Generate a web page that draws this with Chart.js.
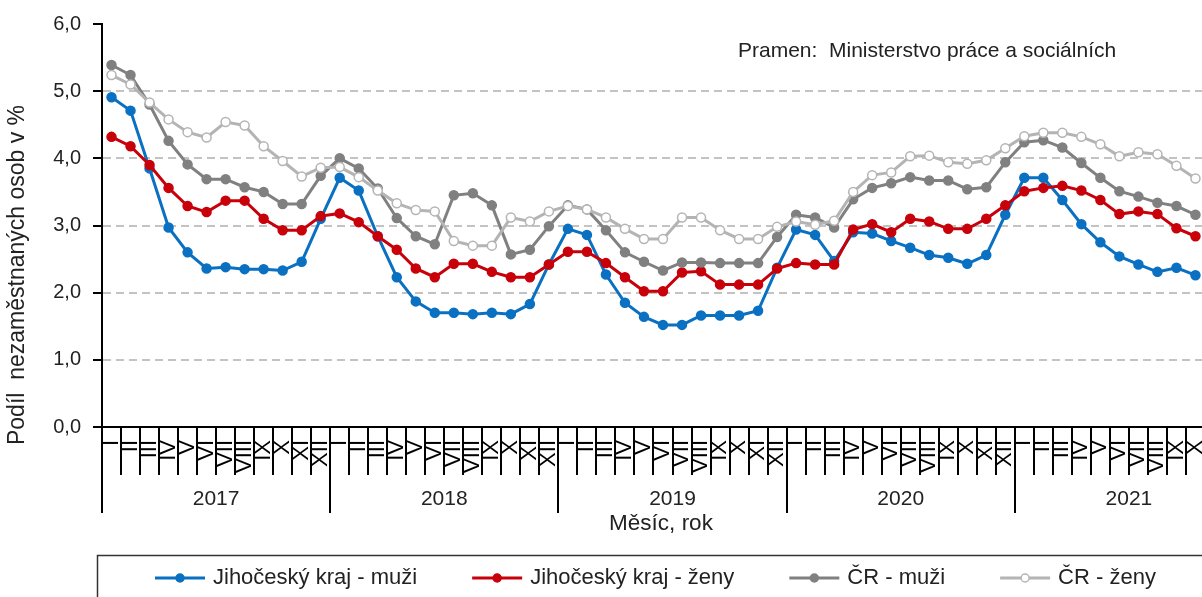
<!DOCTYPE html>
<html>
<head>
<meta charset="utf-8">
<script src="https://cdn.jsdelivr.net/npm/chart.js@4.4.1/dist/chart.umd.min.js"></script>
<style>
  html, body { margin: 0; padding: 0; background: #fff; overflow: hidden; width: 1202px; height: 597px; }
  #wrap { width: 1262px; height: 597px; }
</style>
</head>
<body>
<div id="wrap"><canvas id="chart" width="1262" height="597"></canvas></div>
<script>
"use strict";

// ---------------- DATA ----------------
const years = ["2017", "2018", "2019", "2020", "2021"];
const months = ["I", "II", "III", "IV", "V", "VI", "VII", "VIII", "IX", "X", "XI", "XII"];

// Jan 2017 .. Oct 2021
const jihoMuzi = [
  4.91, 4.71, 3.85, 2.97, 2.60, 2.36, 2.38, 2.35, 2.35, 2.33, 2.46, 3.10,
  3.71, 3.52, 2.84, 2.23, 1.87, 1.70, 1.70, 1.68, 1.70, 1.68, 1.83, 2.42,
  2.95, 2.86, 2.27, 1.85, 1.64, 1.52, 1.52, 1.66, 1.66, 1.66, 1.73, 2.37,
  2.94, 2.86, 2.47, 2.90, 2.88, 2.77, 2.67, 2.56, 2.52, 2.43, 2.56, 3.16,
  3.71, 3.71, 3.38, 3.02, 2.75, 2.54, 2.42, 2.31, 2.37, 2.26,
];
const jihoZeny = [
  4.32, 4.18, 3.90, 3.56, 3.29, 3.20, 3.37, 3.37, 3.10, 2.93, 2.93, 3.14,
  3.18, 3.05, 2.84, 2.64, 2.36, 2.23, 2.43, 2.43, 2.31, 2.23, 2.23, 2.42,
  2.61, 2.61, 2.44, 2.23, 2.02, 2.02, 2.30, 2.32, 2.12, 2.12, 2.12, 2.36,
  2.44, 2.42, 2.42, 2.94, 3.02, 2.90, 3.10, 3.06, 2.95, 2.95, 3.10, 3.30,
  3.51, 3.56, 3.59, 3.52, 3.38, 3.17, 3.21, 3.17, 2.96, 2.84,
];
const crMuzi = [
  5.39, 5.24, 4.80, 4.26, 3.91, 3.69, 3.69, 3.57, 3.50, 3.32, 3.32, 3.74,
  4.00, 3.85, 3.55, 3.11, 2.84, 2.72, 3.45, 3.48, 3.30, 2.57, 2.64, 2.99,
  3.30, 3.24, 2.93, 2.60, 2.46, 2.33, 2.45, 2.45, 2.44, 2.44, 2.44, 2.83,
  3.16, 3.12, 2.97, 3.39, 3.56, 3.63, 3.72, 3.67, 3.67, 3.54, 3.57, 3.94,
  4.24, 4.27, 4.16, 3.93, 3.71, 3.51, 3.43, 3.34, 3.29, 3.16,
];
const crZeny = [
  5.24, 5.10, 4.83, 4.58, 4.39, 4.31, 4.54, 4.49, 4.18, 3.96, 3.73, 3.86,
  3.87, 3.72, 3.52, 3.33, 3.23, 3.21, 2.77, 2.70, 2.70, 3.12, 3.06, 3.21,
  3.29, 3.24, 3.12, 2.95, 2.80, 2.80, 3.12, 3.12, 2.93, 2.80, 2.80, 2.98,
  3.06, 3.01, 3.07, 3.50, 3.75, 3.79, 4.03, 4.04, 3.94, 3.92, 3.97, 4.15,
  4.33, 4.38, 4.38, 4.32, 4.21, 4.03, 4.09, 4.06, 3.89, 3.70,
];

const yTitle = "Podíl  nezaměstnaných osob v %";
const xTitle = "Měsíc, rok";
const sourceNote = "Pramen:  Ministerstvo práce a sociálních";

const FONT = "'Liberation Sans', Arial, sans-serif";

// month labels repeated for every year
const monthLabels = years.flatMap(() => months);

const makeSet = (label, data, color, fill, order) => ({
  label,
  data,
  borderColor: color,
  backgroundColor: color,
  pointBackgroundColor: fill,
  pointBorderColor: color,
  pointBorderWidth: 1.5,
  pointRadius: 4.5,
  borderWidth: 3,
  tension: 0,
  order,
  xAxisID: "x",
  yAxisID: "y",
});

// ---------------- TEXT + LEGEND ----------------
const decor = {
  id: "decor",
  afterDraw(chart) {
    const { ctx, chartArea } = chart;
    ctx.save();
    ctx.fillStyle = "#222";
    ctx.textBaseline = "middle";

    // x axis line at zero
    ctx.strokeStyle = "#000";
    ctx.lineWidth = 2;
    ctx.beginPath();
    ctx.moveTo(chartArea.left, chartArea.bottom);
    ctx.lineTo(chartArea.right, chartArea.bottom);
    ctx.stroke();

    // y title
    ctx.save();
    ctx.font = "23px " + FONT;
    ctx.translate(18, 275);
    ctx.rotate(-Math.PI / 2);
    ctx.textAlign = "center";
    ctx.fillText(yTitle, 0, 0);
    ctx.restore();

    // x title
    ctx.font = "22.5px " + FONT;
    ctx.textAlign = "center";
    ctx.fillText(xTitle, 661, 524);

    // source
    ctx.font = "21px " + FONT;
    ctx.textAlign = "left";
    ctx.fillText(sourceNote, 738, 51);

    // legend box
    ctx.strokeStyle = "#333";
    ctx.lineWidth = 1.5;
    ctx.strokeRect(97.5, 555.5, 1300, 100);

    // legend items
    ctx.font = "22px " + FONT;
    let x = 155;
    const ly = 578;
    chart.data.datasets.forEach((ds) => {
      ctx.strokeStyle = ds.borderColor;
      ctx.lineWidth = 3;
      ctx.beginPath();
      ctx.moveTo(x, ly);
      ctx.lineTo(x + 50, ly);
      ctx.stroke();
      ctx.beginPath();
      ctx.arc(x + 25, ly, 4, 0, Math.PI * 2);
      ctx.fillStyle = ds.pointBackgroundColor;
      ctx.fill();
      ctx.lineWidth = 1.5;
      ctx.stroke();
      ctx.fillStyle = "#222";
      ctx.fillText(ds.label, x + 58, ly);
      x += 58 + ctx.measureText(ds.label).width + 55;
    });
    ctx.restore();
  },
};

// ---------------- CHART ----------------
new Chart(document.getElementById("chart"), {
  type: "line",
  data: {
    labels: monthLabels,
    datasets: [
      makeSet("Jihočeský kraj - muži", jihoMuzi, "#0a70c2", "#0a70c2", 3),
      makeSet("Jihočeský kraj - ženy", jihoZeny, "#c8000a", "#c8000a", 2),
      makeSet("ČR - muži", crMuzi, "#808080", "#808080", 1),
      makeSet("ČR - ženy", crZeny, "#b4b4b4", "#ffffff", 0),
    ],
  },
  options: {
    responsive: false,
    animation: false,
    devicePixelRatio: 1,
    layout: { padding: { top: 20, right: 19, bottom: 84, left: 0 } },
    plugins: { legend: { display: false }, tooltip: { enabled: false } },
    scales: {
      y: {
        min: 0,
        max: 6,
        afterFit: (s) => { s.width = 102; },
        ticks: {
          stepSize: 1,
          padding: 12,
          color: "#222",
          font: { family: FONT, size: 20 },
          callback: (v) => v.toFixed(1).replace(".", ","),
        },
        grid: {
          color: (c) => (c.tick && (c.tick.value === 0 || c.tick.value === 6) ? "rgba(0,0,0,0)" : "#c3c3c3"),
          lineWidth: 2,
          tickColor: "#000",
          tickLength: 9,
          tickWidth: 2,
        },
        border: { color: "#000", width: 2, dash: [8, 5] },
      },
      x: {
        type: "category",
        labels: monthLabels,
        offset: true,
        weight: 1,
        afterFit: (s) => { s.height = 48; },
        grid: {
          offset: true,
          drawOnChartArea: false,
          color: "#000",
          lineWidth: 2,
          tickLength: 48,
        },
        border: { color: "#000", width: 2 },
        ticks: {
          autoSkip: false,
          minRotation: 90,
          maxRotation: 90,
          padding: -35,
          color: "#000",
          font: { family: FONT, size: 22 },
        },
      },
      x2: {
        type: "category",
        labels: years,
        position: "bottom",
        offset: true,
        weight: 2,
        afterFit: (s) => { s.height = 38; },
        grid: {
          offset: true,
          drawOnChartArea: false,
          color: "#000",
          lineWidth: 2,
          tickLength: 38,
        },
        border: { display: false },
        ticks: {
          padding: -26,
          color: "#222",
          font: { family: FONT, size: 21 },
        },
      },
    },
  },
  plugins: [decor],
});
</script>
</body>
</html>
